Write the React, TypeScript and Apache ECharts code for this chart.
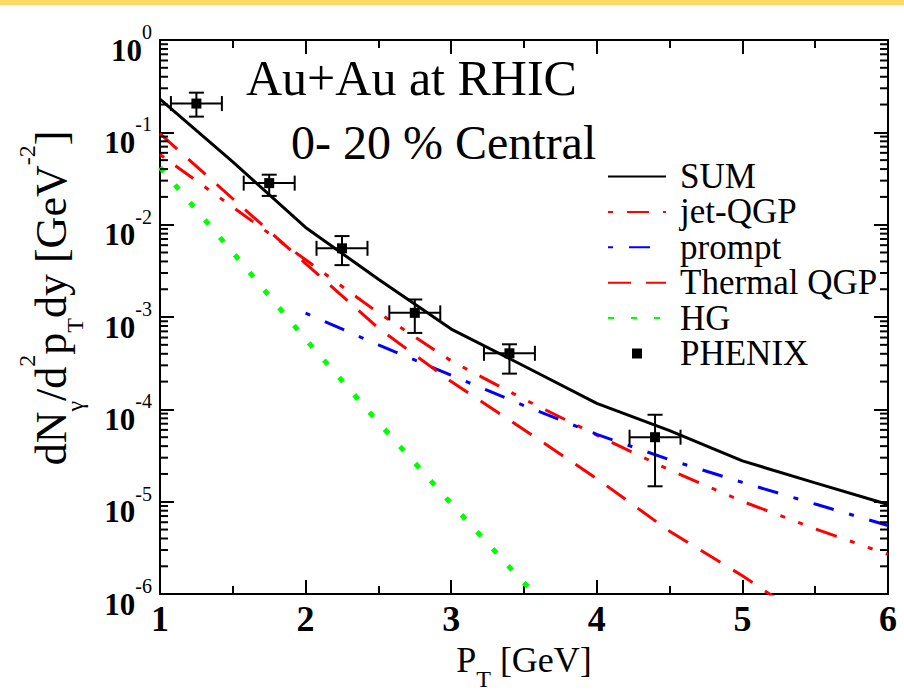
import React, { useEffect, useRef } from 'react';
import * as echarts from 'echarts';

const FONT = 'serif';

// ---- data ----
const pT = [1, 1.5, 2, 2.5, 3, 3.5, 4, 4.5, 5, 5.5, 6];
const sumY = [0.229, 0.0479, 0.00933, 0.00257, 7.41e-4, 2.95e-4, 1.16e-4, 5.89e-5, 2.77e-5, 1.6e-5, 9.33e-6];
const jetQGP = [0.0575, 0.0155, 0.00417, 0.00111, 3.35e-4, 1.29e-4, 5.25e-5, 2.21e-5, 1.01e-5, 5.09e-6, 2.69e-6];
const prompt = [null, null, 1.1e-3, 5.01e-4, 2.34e-4, 1.1e-4, 5.37e-5, 2.85e-5, 1.62e-5, 9.44e-6, 5.53e-6];
const thermalQGP = [0.0966, 0.0191, 0.0038, 7.59e-4, 2.0e-4, 6.03e-5, 1.78e-5, 4.79e-6, 1.58e-6, 4.68e-7, 1.38e-7];
const hg = [0.0417, 5.01e-3, 5.75e-4, 7.24e-5, 9.55e-6, 1.32e-6, 2.5e-7, null, null, null, null];

const phenixPT = [1.25, 1.75, 2.25, 2.75, 3.4, 4.4];
const phenixY = [0.205, 0.0282, 0.00555, 0.00111, 4.05e-4, 5.0e-5];
const phenixYHi = [0.269, 0.0348, 0.00753, 0.00155, 5.07e-4, 8.75e-5];
const phenixYLo = [0.148, 0.0205, 0.00365, 6.73e-4, 2.44e-4, 1.47e-5];
const phenixPTErr = [0.175, 0.175, 0.175, 0.175, 0.175, 0.175];

const xTickLabels = ['1', '2', '3', '4', '5', '6'];
const yTickExponents = ['0', '-1', '-2', '-3', '-4', '-5', '-6'];
const xMin = 1;
const xMax = 6;
const yMin = 1e-6;
const yMax = 1;

// standard log minor ticks (2..9 x 10^k)
const yMinorTicks: number[] = [];
for (let k = -6; k < 0; k++) {
  for (let m = 2; m <= 9; m++) yMinorTicks.push(m * Math.pow(10, k));
}

const pair = (xs: number[], ys: (number | null)[]) => xs.map((x, i) => [x, ys[i]]);
const noSym = { opacity: 0 };

export default function App() {
  const ref = useRef<HTMLDivElement>(null);
  useEffect(() => {
    const chart = echarts.init(ref.current!, null, { renderer: 'svg' });
    const axisLine = { show: true, onZero: false, lineStyle: { color: '#000', width: 2 } };
    const tick = { show: true, inside: true, length: 14, lineStyle: { color: '#000', width: 2 } };
    const yLabelRich = {
      b: { fontFamily: FONT, fontSize: 31, fontWeight: 'bold', color: '#000', lineHeight: 31, padding: [20, 0, 0, 0] },
      e: { fontFamily: FONT, fontSize: 20, color: '#000', lineHeight: 20, padding: [7.5, 0, 23.5, 0] },
    };
    const option: any = {
      animation: false,
      textStyle: { fontFamily: FONT },
      grid: { left: 160, top: 40, width: 728, height: 572, containLabel: false },
      xAxis: [
        {
          type: 'value', min: xMin, max: xMax, interval: 1, position: 'bottom',
          axisLine, axisTick: tick,
          minorTick: { show: true, splitNumber: 2, length: 8, lineStyle: { color: '#000', width: 2 } },
          splitLine: { show: false },
          axisLabel: {
            margin: 7, fontFamily: FONT, fontSize: 36, fontWeight: 'bold', color: '#000', lineHeight: 36,
            formatter: (v: number) => xTickLabels[Math.round(v) - 1] ?? '',
          },
          name: '{m|P}{s|T}{m| [GeV]}',
          nameLocation: 'middle', nameGap: 31,
          nameTextStyle: {
            fontFamily: FONT,
            rich: {
              m: { fontFamily: FONT, fontSize: 36, color: '#000', lineHeight: 36, padding: [0, 0, 14, 0] },
              s: { fontFamily: FONT, fontSize: 24, color: '#000', lineHeight: 24, padding: [25, 0, 1, 0] },
            },
          },
        },
        {
          type: 'value', min: xMin, max: xMax, interval: 1, position: 'top',
          axisLine, axisTick: tick,
          minorTick: { show: true, splitNumber: 2, length: 8, lineStyle: { color: '#000', width: 2 } },
          splitLine: { show: false }, axisLabel: { show: false },
        },
      ],
      yAxis: [
        {
          type: 'log', logBase: 10, min: yMin, max: yMax, splitNumber: 6, position: 'left',
          axisLine, axisTick: tick, splitLine: { show: false },
          axisLabel: {
            margin: 8, fontFamily: FONT,
            formatter: (v: number) => `{b|10}{e|${yTickExponents[Math.round(-Math.log10(v))]}}`,
            rich: yLabelRich,
          },
        },
        {
          type: 'log', logBase: 10, min: yMin, max: yMax, splitNumber: 6, position: 'right',
          axisLine, axisTick: tick, splitLine: { show: false }, axisLabel: { show: false },
        },
      ],
      legend: {
        orient: 'vertical', left: 602, top: 154, itemWidth: 58, itemHeight: 10, itemGap: 0.4,
        selectedMode: false,
        textStyle: { fontFamily: FONT, fontSize: 35, color: '#000', lineHeight: 35, padding: [0, 0, 0, 9] },
        data: [
          { name: 'SUM', itemStyle: noSym },
          { name: 'jet-QGP', itemStyle: noSym },
          { name: 'prompt', itemStyle: noSym },
          { name: 'Thermal QGP', itemStyle: noSym },
          { name: 'HG', itemStyle: noSym },
          { name: 'PHENIX', icon: 'path://M0 0H10V10H0Z' },
        ],
      },
      graphic: [
        { type: 'rect', shape: { x: 0, y: 0, width: 904, height: 5 }, style: { fill: '#FFD966' }, silent: true },
        {
          type: 'text', x: 246, y: 53,
          style: { text: 'Au+Au at RHIC', fontFamily: FONT, fontSize: 50, fill: '#000' },
        },
        {
          type: 'text', x: 291, y: 118,
          style: { text: '0- 20 % Central', fontFamily: FONT, fontSize: 48, fill: '#000' },
        },
        {
          type: 'text', x: 58, y: 298, rotation: Math.PI / 2,
          style: {
            text: '{m|dN}{s|γ}{m|/d}{p|2}{m|p}{s|T}{m|dy [GeV}{p|-2}{m|]}',
            fontFamily: FONT,
            align: 'center', verticalAlign: 'middle',
            rich: {
              m: { fontFamily: FONT, fontSize: 44, fill: '#000', lineHeight: 44, padding: [16, 0, 30, 0] },
              s: { fontFamily: FONT, fontSize: 24, fill: '#000', lineHeight: 24, padding: [50, 0, 16, 0] },
              p: { fontFamily: FONT, fontSize: 24, fill: '#000', lineHeight: 24, padding: [2, 0, 64, 0] },
            },
          },
        },
      ],
      series: [
        {
          type: 'custom', name: 'minorTicks', silent: true, z: 5,
          data: yMinorTicks.map((v) => [xMin, v]),
          encode: { x: 0, y: 1 },
          renderItem: (params: any, api: any) => {
            const v = api.value(1);
            const l = api.coord([xMin, v]);
            const r = api.coord([xMax, v]);
            const st = { stroke: '#000', lineWidth: 2 };
            return {
              type: 'group',
              children: [
                { type: 'line', shape: { x1: l[0], y1: l[1], x2: l[0] + 8, y2: l[1] }, style: st },
                { type: 'line', shape: { x1: r[0] - 8, y1: r[1], x2: r[0], y2: r[1] }, style: st },
              ],
            };
          },
        },
        {
          type: 'line', name: 'SUM', data: pair(pT, sumY), symbol: 'none', z: 4,
          lineStyle: { color: '#000', width: 3, type: 'solid' },
        },
        {
          type: 'line', name: 'jet-QGP', data: pair(pT, jetQGP), symbol: 'none', z: 3,
          lineStyle: { color: '#ff0000', width: 3, type: [5, 14, 22, 14, 5, 14], cap: 'butt' },
        },
        {
          type: 'line', name: 'prompt', data: pair(pT, prompt), symbol: 'none', z: 3,
          lineStyle: { color: '#0000ff', width: 3, type: [5, 16, 21, 16], cap: 'butt' },
        },
        {
          type: 'line', name: 'Thermal QGP', data: pair(pT, thermalQGP), symbol: 'none', z: 3,
          lineStyle: { color: '#ff0000', width: 3, type: [23, 15], cap: 'butt' },
        },
        {
          type: 'line', name: 'HG', data: pair(pT, hg), symbol: 'none', z: 3,
          lineStyle: { color: '#00ff00', width: 5, type: [6, 17], cap: 'butt' },
        },
        {
          type: 'custom', name: 'PHENIX errors', silent: true, z: 6,
          data: phenixPT.map((x, i) => [x, phenixY[i], x - phenixPTErr[i], x + phenixPTErr[i], phenixYLo[i], phenixYHi[i]]),
          encode: { x: 0, y: 1 },
          renderItem: (params: any, api: any) => {
            const y = api.value(1);
            const c = api.coord([api.value(0), y]);
            const l = api.coord([api.value(2), y]);
            const r = api.coord([api.value(3), y]);
            const lo = api.coord([api.value(0), api.value(4)]);
            const hi = api.coord([api.value(0), api.value(5)]);
            const st = { stroke: '#000', lineWidth: 2 };
            const cap = 7.5;
            return {
              type: 'group',
              children: [
                { type: 'line', shape: { x1: l[0], y1: c[1], x2: r[0], y2: c[1] }, style: st },
                { type: 'line', shape: { x1: l[0], y1: c[1] - cap, x2: l[0], y2: c[1] + cap }, style: st },
                { type: 'line', shape: { x1: r[0], y1: c[1] - cap, x2: r[0], y2: c[1] + cap }, style: st },
                { type: 'line', shape: { x1: c[0], y1: lo[1], x2: c[0], y2: hi[1] }, style: st },
                { type: 'line', shape: { x1: c[0] - cap, y1: lo[1], x2: c[0] + cap, y2: lo[1] }, style: st },
                { type: 'line', shape: { x1: c[0] - cap, y1: hi[1], x2: c[0] + cap, y2: hi[1] }, style: st },
              ],
            };
          },
        },
        {
          type: 'scatter', name: 'PHENIX', data: pair(phenixPT, phenixY), symbol: 'rect', symbolSize: 10, z: 7,
          itemStyle: { color: '#000', opacity: 1 },
        },
      ],
    };
    chart.setOption(option);
    return () => chart.dispose();
  }, []);
  return (
    <div
      ref={ref}
      style={{ position: 'fixed', left: 0, top: 0, width: 904, height: 697, background: '#fff' }}
    />
  );
}
